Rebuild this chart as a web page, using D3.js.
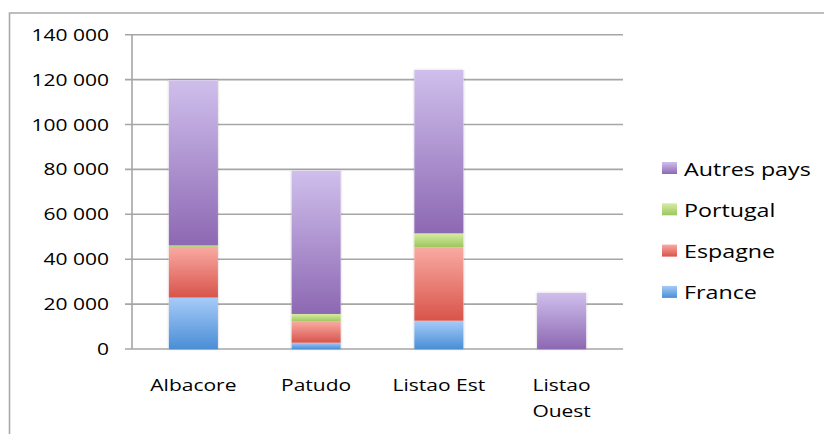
<!DOCTYPE html>
<html><head><meta charset="utf-8">
<script src="https://cdnjs.cloudflare.com/ajax/libs/d3/7.8.5/d3.min.js"></script>
<style>html,body{margin:0;padding:0;background:#fff;}svg{display:block;}</style>
</head><body><div id="chart"></div>
<script>
const categories = ["Albacore", "Patudo", "Listao Est", "Listao Ouest"];
const seriesNames = ["France", "Espagne", "Portugal", "Autres pays"];
const france   = [22900, 2800, 12600, 0];
const espagne  = [22600, 9400, 32700, 0];
const portugal = [600, 3400, 6200, 0];
const autres   = [73600, 63800, 72800, 25000];
const yTicks = [0, 20000, 40000, 60000, 80000, 100000, 120000, 140000];
const colorsTop = ["#a6cbf8", "#f9aaa3", "#d6eca3", "#cfbfec"];
const colorsBot = ["#4a8ed6", "#d8544a", "#9cc65c", "#8d68b3"];

const W = 824, H = 434;
const svg = d3.select("#chart").append("svg").attr("width", W).attr("height", H);
const defs = svg.append("defs");
seriesNames.forEach((s, i) => {
  const g = defs.append("linearGradient").attr("id", "g" + i)
    .attr("x1", 0).attr("y1", 0).attr("x2", 0).attr("y2", 1);
  g.append("stop").attr("offset", "0%").attr("stop-color", colorsTop[i]);
  g.append("stop").attr("offset", "100%").attr("stop-color", colorsBot[i]);
});
const sh = defs.append("filter").attr("id", "sh").attr("x", "-20%").attr("y", "-5%").attr("width", "140%").attr("height", "110%");
sh.append("feDropShadow").attr("dx", 0).attr("dy", 0).attr("stdDeviation", 1.2).attr("flood-color", "#000").attr("flood-opacity", 0.25);

// frame
svg.append("path").attr("d", `M9.5,${H + 2} V13 H${W + 2}`).attr("fill", "none")
  .attr("stroke", "#a9a9a9").attr("stroke-width", 1.6);

const x0 = 132, x1 = 623;
const y = d3.scaleLinear().domain([0, 140000]).range([349, 34.7]);
const x = d3.scaleBand().domain(categories).range([x0, x1]).paddingInner(0.6).paddingOuter(0.3);

const font = "'Open Sans', 'DejaVu Sans', sans-serif";
const sx = 1.25;

// gridlines
svg.append("g").selectAll("line").data(yTicks).join("line")
  .attr("x1", 125).attr("x2", x1).attr("y1", d => y(d)).attr("y2", d => y(d))
  .attr("stroke", "#a6a6a6").attr("stroke-width", 1.6);
// y axis line
svg.append("line").attr("x1", x0).attr("x2", x0).attr("y1", y(140000)).attr("y2", y(0))
  .attr("stroke", "#a6a6a6").attr("stroke-width", 1.6);

// y tick labels
svg.append("g").selectAll("text").data(yTicks).join("text")
  .attr("transform", d => `translate(109,${y(d) + 6}) scale(${sx},1)`)
  .attr("text-anchor", "end").attr("font-family", font).attr("font-size", 16.8)
  .attr("fill", "#000").text(d => d3.format(",")(d).replace(/,/g, " "));

// stacked bars
const table = categories.map((c, i) => ({cat: c, France: france[i], Espagne: espagne[i], Portugal: portugal[i], "Autres pays": autres[i]}));
const stack = d3.stack().keys(seriesNames)(table);
const bw = x.bandwidth();
const barG = svg.append("g");
barG.selectAll("rect.s").data(table).join("rect").attr("class", "s")
  .attr("x", d => x(d.cat)).attr("width", bw)
  .attr("y", d => y(d.France + d.Espagne + d.Portugal + d["Autres pays"]))
  .attr("height", d => y(0) - y(d.France + d.Espagne + d.Portugal + d["Autres pays"]))
  .attr("fill", "#fff").attr("filter", "url(#sh)");
stack.forEach((layer, i) => {
  barG.append("g").selectAll("rect").data(layer.filter(d => d[1] - d[0] > 0)).join("rect")
    .attr("x", d => x(d.data.cat)).attr("width", bw)
    .attr("y", d => y(d[1])).attr("height", d => y(d[0]) - y(d[1]))
    .attr("fill", `url(#g${i})`);
});

// category labels
const catLines = {"Albacore": ["Albacore"], "Patudo": ["Patudo"], "Listao Est": ["Listao Est"], "Listao Ouest": ["Listao", "Ouest"]};
categories.forEach(c => {
  catLines[c].forEach((ln, j) => {
    svg.append("text")
      .attr("transform", `translate(${x(c) + bw / 2},${391 + j * 26}) scale(${sx},1)`)
      .attr("text-anchor", "middle").attr("font-family", font).attr("font-size", 16.8)
      .attr("fill", "#000").text(ln);
  });
});

// legend
const legOrder = ["Autres pays", "Portugal", "Espagne", "France"];
legOrder.forEach((s, k) => {
  const i = seriesNames.indexOf(s);
  const yy = 162 + k * 41.3;
  svg.append("rect").attr("x", 662).attr("y", yy).attr("width", 15).attr("height", 12)
    .attr("fill", `url(#g${i})`);
  svg.append("text").attr("transform", `translate(684,${yy + 13.5}) scale(${sx},1)`)
    .attr("font-family", font).attr("font-size", 18.6).attr("fill", "#000").text(s);
});
</script></body></html>
